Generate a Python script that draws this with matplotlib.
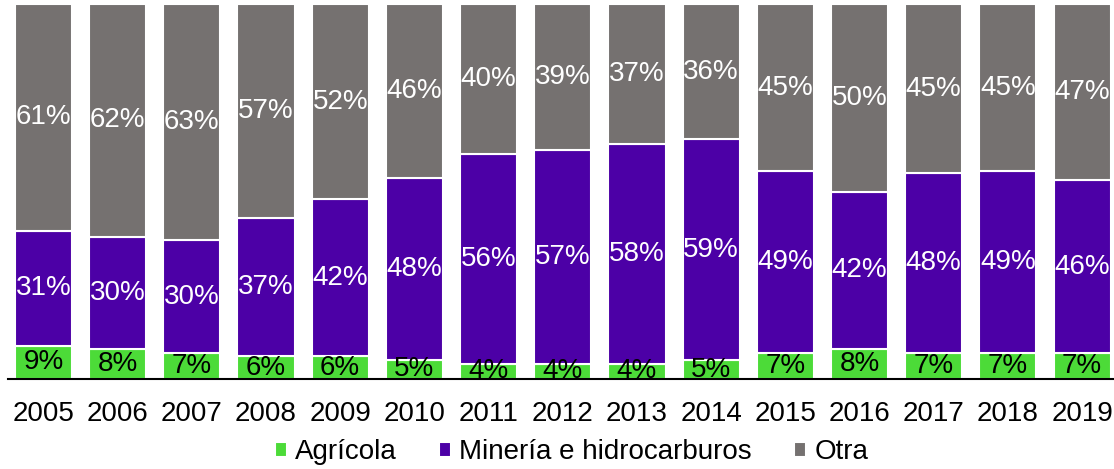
import numpy as np
import matplotlib.pyplot as plt

plt.rcParams.update({
    'font.family': ['Liberation Sans', 'DejaVu Sans'],
    'figure.facecolor': 'white', 'axes.facecolor': 'white',
})

years = ['2005', '2006', '2007', '2008', '2009', '2010', '2011', '2012',
         '2013', '2014', '2015', '2016', '2017', '2018', '2019']
agricola = [9, 8, 7, 6, 6, 5, 4, 4, 4, 5, 7, 8, 7, 7, 7]
mineria  = [31, 30, 30, 37, 42, 48, 56, 57, 58, 59, 49, 42, 48, 49, 46]
otra     = [61, 62, 63, 57, 52, 46, 40, 39, 37, 36, 45, 50, 45, 45, 47]

series = [
    ('Agrícola', agricola, '#4CDB38', 'black'),
    ('Minería e hidrocarburos', mineria, '#4C00A6', 'white'),
    ('Otra', otra, '#757170', 'white'),
]

fig = plt.figure(figsize=(11.14, 4.69), dpi=100)
ax = fig.add_axes([0.007, 0.192, 0.993, 0.799])

x = np.arange(len(years))
# 100% stacked: each column is scaled to its own total
totals = np.array(agricola) + np.array(mineria) + np.array(otra)
bottom = np.zeros(len(years))
for name, vals, col, tcol in series:
    raw = np.array(vals, dtype=float)
    h = raw / totals * 100
    ax.bar(x, h, width=0.77, bottom=bottom, color=col,
           edgecolor='white', linewidth=1.5, label=name, zorder=2)
    for xi, b, hh, v in zip(x, bottom, h, raw):
        ax.text(xi, b + hh / 2, f'{int(v)}%', ha='center', va='center',
                fontsize=20, color=tcol, zorder=3)
    bottom += h

ax.set_xlim(-0.48, 14.43)
ax.set_ylim(0, 100)
for s in ['top', 'right', 'left']:
    ax.spines[s].set_visible(False)
ax.spines['bottom'].set_linewidth(1.5)
ax.spines['bottom'].set_zorder(4)
ax.set_yticks([])
ax.set_xticks(x)
ax.set_xticklabels(years, fontsize=20)
ax.tick_params(axis='x', length=0, pad=16)

handles, labels = ax.get_legend_handles_labels()
fig.legend(handles, labels, loc='center', bbox_to_anchor=(0.513, 0.036),
           ncol=3, frameon=False, fontsize=20, handlelength=0.44,
           handleheight=0.44, handletextpad=0.3, columnspacing=1.5,
           borderpad=0, borderaxespad=0)

fig.savefig('out.png', dpi=100)
